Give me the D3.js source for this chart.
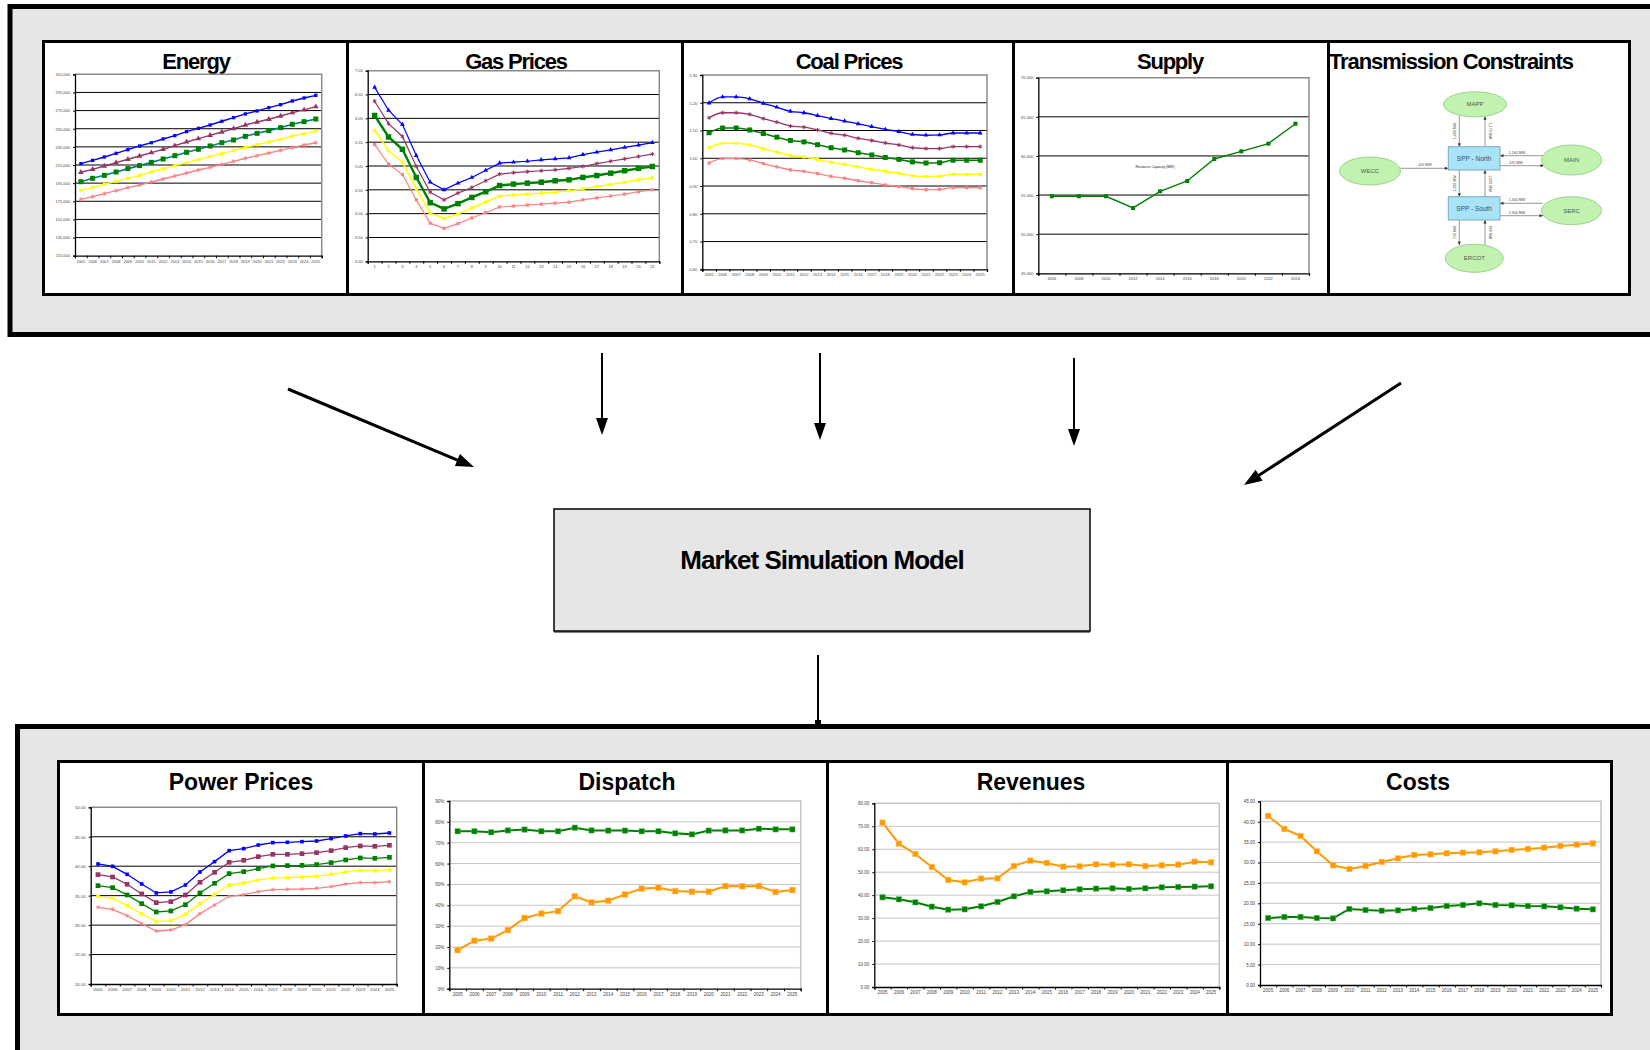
<!DOCTYPE html>
<html>
<head>
<meta charset="utf-8">
<script src="https://cdn.jsdelivr.net/npm/d3@7"></script>
<style>
  html, body { margin: 0; padding: 0; background: #ffffff; }
  svg { display: block; font-family: "Liberation Sans", Arial, sans-serif; }
</style>
</head>
<body>
<svg id="chart" width="1650" height="1050"></svg>
<script>
// ---------- categories ----------
const years = ["2005","2006","2007","2008","2009","2010","2011","2012","2013","2014","2015",
               "2016","2017","2018","2019","2020","2021","2022","2023","2024","2025"];
const gasPeriods = ["1","2","3","4","5","6","7","8","9","10","11","12","13","14","15","16","17","18","19","20","21"];
const supplyYears = ["2006","2008","2010","2012","2014","2016","2018","2020","2022","2024"];

// ---------- axis ticks ----------
const energyTicks = [115000,135000,155000,175000,195000,215000,235000,255000,275000,295000,315000];
const gasTicks = [3.0,3.5,4.0,4.5,5.0,5.5,6.0,6.5,7.0];
const coalTicks = [0.6,0.7,0.8,0.9,1.0,1.1,1.2,1.3];
const supplyTicks = [45000,50000,55000,60000,65000,70000];
const powerTicks = [20,25,30,35,40,45,50];
const dispatchTicks = [0,10,20,30,40,50,60,70,80,90];
const revenueTicks = [0,10,20,30,40,50,60,70,80];
const costTicks = [0,5,10,15,20,25,30,35,40,45];

// ---------- Energy (MWh) ----------
const energyHigh    = [216500,220100,223800,227900,231900,236000,239600,243700,247400,251800,255400,259100,263200,267200,271300,274600,278200,281500,285600,288900,291800];
const energyMidHigh = [207000,210200,213900,217600,221300,224900,228600,232300,236300,240400,244000,247700,251400,255100,259100,262400,265400,269000,272700,275700,279300];
const energyBase    = [196600,200300,203600,207300,211000,214300,217900,221600,225300,229000,232300,236000,239600,242600,246600,249900,252900,256200,259900,262800,265700];
const energyMidLow  = [187100,190400,193700,197000,200300,203600,207300,210600,214300,217600,220900,224200,227500,230800,234500,237400,240400,243300,247000,249600,252500];
const energyLow     = [177100,180100,183400,186700,190000,192900,196200,199600,202900,206200,209500,212400,215700,219000,222400,225300,228200,231200,234100,237100,239600];

// ---------- Gas prices ----------
const gasHigh    = [6.65,6.17,5.87,5.22,4.66,4.50,4.64,4.76,4.91,5.06,5.08,5.10,5.13,5.15,5.17,5.24,5.29,5.34,5.39,5.44,5.49];
const gasMidHigh = [6.36,5.89,5.62,4.99,4.45,4.29,4.43,4.55,4.69,4.83,4.86,4.88,4.90,4.92,4.95,4.99,5.05,5.10,5.15,5.20,5.25];
const gasBase    = [6.06,5.61,5.35,4.76,4.23,4.10,4.21,4.34,4.46,4.59,4.62,4.64,4.66,4.69,4.71,4.76,4.80,4.85,4.90,4.95,4.99];
const gasMidLow  = [5.75,5.32,5.08,4.52,4.01,3.90,3.99,4.12,4.24,4.37,4.39,4.41,4.43,4.45,4.48,4.52,4.57,4.61,4.66,4.71,4.75];
const gasLow     = [5.45,5.04,4.82,4.29,3.80,3.69,3.79,3.91,4.02,4.14,4.16,4.18,4.20,4.22,4.24,4.29,4.33,4.37,4.41,4.46,4.50];

// ---------- Coal prices ----------
const coalHigh    = [1.199,1.221,1.221,1.214,1.198,1.184,1.169,1.164,1.154,1.143,1.134,1.124,1.114,1.104,1.096,1.086,1.083,1.084,1.091,1.091,1.091];
const coalMidHigh = [1.146,1.164,1.164,1.158,1.143,1.130,1.116,1.112,1.102,1.090,1.083,1.072,1.064,1.055,1.048,1.038,1.035,1.035,1.042,1.042,1.042];
const coalBase    = [1.092,1.109,1.109,1.102,1.089,1.076,1.064,1.059,1.049,1.038,1.030,1.020,1.012,1.003,0.996,0.987,0.983,0.984,0.993,0.993,0.993];
const coalMidLow  = [1.037,1.054,1.054,1.048,1.034,1.022,1.010,1.005,0.996,0.986,0.978,0.969,0.960,0.953,0.946,0.937,0.934,0.935,0.942,0.942,0.942];
const coalLow     = [0.983,0.999,0.999,0.994,0.981,0.969,0.958,0.953,0.945,0.935,0.928,0.919,0.912,0.904,0.898,0.891,0.887,0.888,0.894,0.894,0.894];

// ---------- Supply: resource capacity (MW) ----------
const supplyCapacity = [54850,54850,54850,53350,55480,56800,59610,60590,61570,64120];

// ---------- Power prices ----------
const powerHigh    = [40.38,39.98,38.62,36.98,35.46,35.63,36.81,39.02,40.78,42.64,42.98,43.60,44.00,44.06,44.17,44.28,44.68,45.13,45.53,45.47,45.64];
const powerMidHigh = [38.57,38.17,36.93,35.29,33.81,33.98,35.12,37.27,38.96,40.66,41.00,41.62,42.02,42.02,42.13,42.30,42.64,43.15,43.44,43.38,43.55];
const powerBase    = [36.70,36.36,35.12,33.64,32.23,32.40,33.47,35.46,37.10,38.74,39.08,39.59,40.04,40.10,40.15,40.27,40.61,41.06,41.40,41.34,41.51];
const powerMidLow  = [34.83,34.55,33.31,31.89,30.59,30.76,31.83,33.64,35.23,36.81,37.15,37.66,38.00,38.06,38.17,38.29,38.62,39.02,39.30,39.25,39.42];
const powerLow     = [33.02,32.68,31.61,30.25,29.00,29.17,30.08,31.95,33.42,34.89,35.17,35.68,36.02,36.08,36.13,36.25,36.53,36.98,37.21,37.21,37.38];

// ---------- Dispatch (capacity factor, %) ----------
const dispatchGreen  = [75.5,75.5,75.0,75.9,76.3,75.5,75.5,77.2,75.9,75.8,75.8,75.5,75.5,74.5,74.0,75.8,75.9,75.9,76.7,76.4,76.4];
const dispatchOrange = [18.5,23.0,24.0,28.1,33.9,36.0,37.2,44.3,41.4,42.2,45.2,48.0,48.4,46.8,46.5,46.5,49.2,49.1,49.2,46.4,47.3];

// ---------- Revenues ----------
const revenueOrange = [71.58,62.43,57.93,52.27,46.61,45.59,47.19,47.33,52.70,55.03,54.01,52.41,52.56,53.43,53.28,53.43,52.70,52.99,53.28,54.59,54.30];
const revenueGreen  = [39.06,38.19,36.88,34.99,33.68,33.83,35.14,37.02,39.49,41.38,41.67,42.11,42.54,42.83,42.98,42.69,42.98,43.41,43.56,43.70,43.85];

// ---------- Costs ----------
const costOrange = [41.41,38.22,36.51,32.75,29.32,28.42,29.16,30.14,31.03,31.85,32.01,32.26,32.42,32.50,32.75,33.08,33.32,33.65,34.06,34.38,34.71];
const costGreen  = [16.41,16.66,16.66,16.41,16.33,18.62,18.37,18.21,18.29,18.62,18.86,19.35,19.60,20.01,19.60,19.52,19.35,19.27,19.03,18.70,18.54];

// ---------- Transmission regions and flows ----------
const regionNames = ["MAPP","WECC","MAIN","SERC","ERCOT"];
const zoneNames = ["SPP - North","SPP - South"];
const flowLabels = ["1,400 MW","1,170 MW","420 MW","1,160 MW","470 MW","1,200 MW","1,000 MW","1,300 MW","1,300 MW","750 MW","800 MW"];

// ======================================================================
const svg = d3.select("#chart");
const FONT = "'Liberation Sans', Arial, sans-serif";

// Outer grey frames
svg.append("rect").attr("x", 10).attr("y", 6.5).attr("width", 1700).attr("height", 328)
  .attr("fill", "#e6e6e6").attr("stroke", "#000").attr("stroke-width", 5);
svg.append("rect").attr("x", 17.5).attr("y", 726.5).attr("width", 1700).attr("height", 400)
  .attr("fill", "#e6e6e6").attr("stroke", "#000").attr("stroke-width", 5);

// White panels
const topEdges = [42, 346, 681, 1012, 1327, 1628];
const bottomEdges = [57, 422, 826, 1226, 1610];
function panels(edges, y0, y1) {
  for (let i = 0; i < edges.length - 1; i++) {
    svg.append("rect").attr("x", edges[i] + 1.5).attr("y", y0 + 1.5)
      .attr("width", edges[i + 1] - edges[i]).attr("height", y1 - y0 - 3)
      .attr("fill", "#fff").attr("stroke", "#000").attr("stroke-width", 3);
  }
}
panels(topEdges, 40, 296);
panels(bottomEdges, 760, 1016);

// Panel titles
function title(text, x, y, size, spacing, anchor) {
  svg.append("text").attr("x", x).attr("y", y).text(text)
    .attr("font-family", FONT).attr("font-weight", "bold").attr("font-size", size)
    .attr("letter-spacing", spacing).attr("text-anchor", anchor || "middle").attr("fill", "#000");
}
title("Energy", 196, 69, 22, -1.2);
title("Gas Prices", 516, 68.5, 22, -1.2);
title("Coal Prices", 849, 69, 22, -1.2);
title("Supply", 1170, 68.5, 22, -1.2);
title("Transmission Constraints", 1329, 68.5, 22, -1.1, "start");
title("Power Prices", 241, 790, 23, 0);
title("Dispatch", 627, 790, 23, 0);
title("Revenues", 1031, 790, 23, 0);
title("Costs", 1418, 790, 23, 0);

// Generic Excel-style line chart
function lineChart(cfg) {
  const g = svg.append("g");
  const { left, right, top, bottom } = cfg.box;
  const x = d3.scaleBand().domain(cfg.categories).range([left, right]);
  const y = d3.scaleLinear().domain(cfg.domain).range([bottom, top]);
  const n = cfg.categories.length;

  // horizontal gridlines
  g.selectAll("line.grid")
    .data(cfg.ticks.filter(t => t > cfg.domain[0] + 1e-9 && t < cfg.domain[1] - 1e-9))
    .join("line").attr("class", "grid")
    .attr("x1", left).attr("x2", right)
    .attr("y1", d => y(d)).attr("y2", d => y(d))
    .attr("stroke", cfg.grid).attr("stroke-width", cfg.gridWidth || 1);

  // plot frame (top and right)
  g.append("path").attr("d", `M${left},${y(cfg.domain[1])}H${right}V${bottom}`)
    .attr("fill", "none").attr("stroke", cfg.frame).attr("stroke-width", 1.5);

  // value axis
  const ya = g.append("g").attr("transform", `translate(${left},0)`)
    .call(d3.axisLeft(y).tickValues(cfg.ticks).tickFormat(cfg.format).tickSize(2).tickPadding(3));
  // category axis: labels centred on categories
  const xa = g.append("g").attr("transform", `translate(0,${bottom})`)
    .call(d3.axisBottom(x).tickSize(0).tickPadding(cfg.labelPad || 4));
  xa.select(".domain").remove();
  // category axis: tick marks between categories
  const edge = d3.scaleLinear().domain([0, n]).range([left, right]);
  const xt = g.append("g").attr("transform", `translate(0,${bottom})`)
    .call(d3.axisBottom(edge).tickValues(d3.range(n + 1)).tickFormat("").tickSize(2.5));
  [ya, xa, xt].forEach(a => {
    a.attr("font-family", FONT).attr("font-size", cfg.fontSize);
    a.selectAll("text").attr("fill", "#444");
    a.selectAll("path.domain").attr("stroke", "#000").attr("stroke-width", 1.3);
    a.selectAll(".tick line").attr("stroke", "#000");
  });

  const cx = c => x(c) + x.bandwidth() / 2;
  cfg.series.forEach(s => {
    const pts = s.values.map((v, i) => [cx(cfg.categories[i]), y(v)]);
    g.append("path").datum(pts)
      .attr("d", d3.line().curve(cfg.curve || d3.curveLinear))
      .attr("fill", "none").attr("stroke", s.line || s.color).attr("stroke-width", s.width);
    const stroke = s.shape === d3.symbolAsterisk || s.shape === d3.symbolTimes;
    g.selectAll(null).data(pts).join("path")
      .attr("transform", d => `translate(${d[0]},${d[1]})`)
      .attr("d", d3.symbol().type(s.shape).size(s.size))
      .attr("fill", stroke ? "none" : s.color)
      .attr("stroke", stroke ? s.color : (s.halo || "none"))
      .attr("stroke-width", stroke ? 1 : 1)
      .attr("stroke-opacity", stroke ? 1 : 0.45);
  });
  return { x, y, g };
}

const SQ = d3.symbolSquare, TRI = d3.symbolTriangle, AST = d3.symbolAsterisk;
const BLUE = "#0000ff", PURPLE = "#993366", GREEN = "#008000", YELLOW = "#ffff00", PINK = "#ff8080", ORANGE = "#ff9900";

// Energy
lineChart({
  box: { left: 75, right: 321.7, top: 74.3, bottom: 255.7 },
  categories: years, domain: [115000, 315000], ticks: energyTicks, format: d3.format(","),
  grid: "#000", frame: "#8a8a8a", fontSize: 4,
  series: [
    { values: energyHigh, color: BLUE, width: 1.4, shape: SQ, size: 11 },
    { values: energyMidHigh, color: PURPLE, width: 1.4, shape: TRI, size: 14 },
    { values: energyBase, color: GREEN, line: "#008080", width: 1.6, shape: SQ, size: 25 },
    { values: energyMidLow, color: YELLOW, width: 1.4, shape: SQ, size: 11 },
    { values: energyLow, color: PINK, width: 1.4, shape: AST, size: 12 }
  ]
});

// Gas prices
lineChart({
  box: { left: 367.7, right: 659.3, top: 70.7, bottom: 261.3 },
  categories: gasPeriods, domain: [3, 7], ticks: gasTicks, format: d3.format(".2f"),
  grid: "#000", frame: "#8a8a8a", fontSize: 4,
  series: [
    { values: gasHigh, color: BLUE, width: 1.2, shape: TRI, size: 10 },
    { values: gasMidHigh, color: PURPLE, width: 1.2, shape: AST, size: 12 },
    { values: gasBase, color: GREEN, width: 2.4, shape: SQ, size: 30 },
    { values: gasMidLow, color: YELLOW, width: 1.5, shape: SQ, size: 11 },
    { values: gasLow, color: PINK, width: 1.2, shape: SQ, size: 10 }
  ]
});

// Coal prices
lineChart({
  box: { left: 702.3, right: 987, top: 75, bottom: 269.3 },
  categories: years, domain: [0.6, 1.3], ticks: coalTicks, format: d3.format(".2f"),
  grid: "#000", frame: "#8a8a8a", fontSize: 4, curve: d3.curveMonotoneX,
  series: [
    { values: coalHigh, color: BLUE, width: 1.3, shape: TRI, size: 10 },
    { values: coalMidHigh, color: PURPLE, width: 1.3, shape: AST, size: 12 },
    { values: coalBase, color: GREEN, width: 1.6, shape: SQ, size: 25 },
    { values: coalMidLow, color: YELLOW, width: 1.5, shape: SQ, size: 11 },
    { values: coalLow, color: PINK, width: 1.3, shape: SQ, size: 10 }
  ]
});

// Supply
const supply = lineChart({
  box: { left: 1038.3, right: 1309, top: 77.7, bottom: 273.3 },
  categories: supplyYears, domain: [45000, 70000], ticks: supplyTicks, format: d3.format(","),
  grid: "#000", frame: "#8a8a8a", fontSize: 4,
  series: [
    { values: supplyCapacity, color: GREEN, width: 1.4, shape: SQ, size: 16 }
  ]
});
supply.g.append("text").attr("x", 1155).attr("y", 167.5).attr("text-anchor", "middle")
  .attr("font-family", FONT).attr("font-size", 3.5).attr("fill", "#222").text("Resource Capacity (MW)");

// Power prices
lineChart({
  box: { left: 90.7, right: 396.7, top: 807.3, bottom: 984 },
  categories: years, domain: [20, 50], ticks: powerTicks, format: d3.format(".2f"),
  grid: "#000", frame: "#8a8a8a", fontSize: 4.3,
  series: [
    { values: powerHigh, color: BLUE, width: 1.3, shape: SQ, size: 13 },
    { values: powerMidHigh, color: PURPLE, width: 1.3, shape: SQ, size: 22 },
    { values: powerBase, color: GREEN, width: 1.3, shape: SQ, size: 22 },
    { values: powerMidLow, color: YELLOW, width: 1.3, shape: SQ, size: 13 },
    { values: powerLow, color: PINK, width: 1.3, shape: AST, size: 10 }
  ]
});

// Dispatch
lineChart({
  box: { left: 449.3, right: 800.7, top: 801, bottom: 988.7 },
  categories: years, domain: [0, 90], ticks: dispatchTicks, format: d => d + "%",
  grid: "#c4c4c4", frame: "#c4c4c4", fontSize: 4.5,
  series: [
    { values: dispatchGreen, color: GREEN, width: 2, shape: SQ, size: 30, halo: "#80c080" },
    { values: dispatchOrange, color: ORANGE, width: 2, shape: SQ, size: 34, halo: "#ffcc80" }
  ]
});

// Revenues
lineChart({
  box: { left: 874.3, right: 1219.3, top: 803.3, bottom: 987 },
  categories: years, domain: [0, 80], ticks: revenueTicks, format: d3.format(".2f"),
  grid: "#c4c4c4", frame: "#c4c4c4", fontSize: 4.5,
  series: [
    { values: revenueOrange, color: ORANGE, width: 2, shape: SQ, size: 32, halo: "#ffcc80" },
    { values: revenueGreen, color: GREEN, width: 2, shape: SQ, size: 30, halo: "#80c080" }
  ]
});

// Costs
lineChart({
  box: { left: 1260, right: 1601, top: 801.3, bottom: 985 },
  categories: years, domain: [0, 45], ticks: costTicks, format: d3.format(".2f"),
  grid: "#c4c4c4", frame: "#c4c4c4", fontSize: 4.5,
  series: [
    { values: costOrange, color: ORANGE, width: 2, shape: SQ, size: 32, halo: "#ffcc80" },
    { values: costGreen, color: GREEN, width: 2, shape: SQ, size: 30, halo: "#80c080" }
  ]
});

// ---------- Transmission constraints diagram ----------
const tx = svg.append("g");
const regionPos = {
  MAPP:  { cx: 1475, cy: 104.3, rx: 31.5, ry: 12.5 },
  WECC:  { cx: 1370, cy: 171, rx: 30.5, ry: 14 },
  MAIN:  { cx: 1571.5, cy: 160, rx: 30, ry: 15 },
  SERC:  { cx: 1571.5, cy: 210.7, rx: 30, ry: 14 },
  ERCOT: { cx: 1474.3, cy: 258.3, rx: 29, ry: 14 }
};
const zonePos = {
  "SPP - North": { x: 1448.3, y: 146.7, w: 51.7, h: 23.3 },
  "SPP - South": { x: 1448.3, y: 196.7, w: 51.7, h: 23.3 }
};
// flow lines: [x1, y1, x2, y2, label x, label y, rotation]
const flowGeom = [
  [1459.3, 115.4, 1459.3, 146.7, 1456, 131, -90],
  [1485, 146.7, 1485, 116.2, 1489, 131, 90],
  [1400.5, 168.3, 1448.3, 168.3, 1425, 166, 0],
  [1542.8, 155.7, 1500, 155.7, 1517, 153.5, 0],
  [1500, 165.7, 1544, 165.7, 1516, 163.5, 0],
  [1459.3, 170, 1459.3, 196.7, 1456, 183.5, -90],
  [1485, 196.7, 1485, 170, 1489, 183.5, 90],
  [1542.5, 203.3, 1500, 203.3, 1517, 201, 0],
  [1500, 215.7, 1543, 215.7, 1517, 213.5, 0],
  [1459.3, 220, 1459.3, 245, 1456, 232.5, -90],
  [1485, 245.3, 1485, 220, 1489, 232.5, 90]
];
flowLabels.forEach((lab, i) => {
  const [x1, y1, x2, y2, lx, ly, rot] = flowGeom[i];
  tx.append("line").attr("x1", x1).attr("y1", y1).attr("x2", x2).attr("y2", y2)
    .attr("stroke", "#8c8c8c").attr("stroke-width", 0.9);
  const a = Math.atan2(y2 - y1, x2 - x1), L = 3.5, W = 1.6;
  const bx = x2 - L * Math.cos(a), by = y2 - L * Math.sin(a);
  tx.append("path")
    .attr("d", `M${x2},${y2}L${bx - W * Math.sin(a)},${by + W * Math.cos(a)}L${bx + W * Math.sin(a)},${by - W * Math.cos(a)}Z`)
    .attr("fill", "#333");
  tx.append("text").attr("transform", `translate(${lx},${ly}) rotate(${rot})`)
    .attr("text-anchor", "middle").attr("font-family", FONT).attr("font-size", 3.6)
    .attr("fill", "#444").text(lab);
});
regionNames.forEach(name => {
  const p = regionPos[name];
  tx.append("ellipse").attr("cx", p.cx).attr("cy", p.cy).attr("rx", p.rx).attr("ry", p.ry)
    .attr("fill", "#c2f2b0").attr("stroke", "#9cd28c").attr("stroke-width", 1);
  tx.append("text").attr("x", p.cx).attr("y", p.cy + 2).attr("text-anchor", "middle")
    .attr("font-family", FONT).attr("font-size", 6).attr("fill", "#4a5a4a").text(name);
});
zoneNames.forEach(name => {
  const p = zonePos[name];
  tx.append("rect").attr("x", p.x).attr("y", p.y).attr("width", p.w).attr("height", p.h)
    .attr("fill", "#a9e3f7").attr("stroke", "#7fa9bf").attr("stroke-width", 1);
  tx.append("text").attr("x", p.x + p.w / 2).attr("y", p.y + p.h / 2 + 2.3).attr("text-anchor", "middle")
    .attr("font-family", FONT).attr("font-size", 6.5).attr("fill", "#3a4f66").text(name);
});

// ---------- flow arrows into and out of the model ----------
function arrow(x1, y1, x2, y2, w, L, W) {
  const a = Math.atan2(y2 - y1, x2 - x1);
  const bx = x2 - L * Math.cos(a), by = y2 - L * Math.sin(a);
  svg.append("line").attr("x1", x1).attr("y1", y1).attr("x2", bx + 2 * Math.cos(a)).attr("y2", by + 2 * Math.sin(a))
    .attr("stroke", "#000").attr("stroke-width", w);
  svg.append("path")
    .attr("d", `M${x2},${y2}L${bx - W * Math.sin(a)},${by + W * Math.cos(a)}L${bx + W * Math.sin(a)},${by - W * Math.cos(a)}Z`)
    .attr("fill", "#000");
}
arrow(288, 389, 474, 467, 3, 18, 6.5);
arrow(602, 353, 602, 435, 2, 17, 6);
arrow(820, 353, 820, 440, 2, 17, 6);
arrow(1074, 358, 1074, 446, 2, 17, 6);
arrow(1401, 383, 1244, 485, 3, 18, 6.5);
svg.append("line").attr("x1", 818).attr("y1", 655).attr("x2", 818).attr("y2", 724)
  .attr("stroke", "#000").attr("stroke-width", 2);
svg.append("rect").attr("x", 815).attr("y", 720).attr("width", 6).attr("height", 5).attr("fill", "#000");

// Model box
svg.append("rect").attr("x", 554).attr("y", 509).attr("width", 536).attr("height", 122)
  .attr("fill", "#e6e6e6").attr("stroke", "#000").attr("stroke-width", 1.5);
svg.append("line").attr("x1", 554).attr("x2", 1090).attr("y1", 632).attr("y2", 632)
  .attr("stroke", "#000").attr("stroke-width", 1.2);
svg.append("text").attr("x", 822).attr("y", 569).attr("text-anchor", "middle")
  .attr("font-family", FONT).attr("font-weight", "bold").attr("font-size", 26)
  .attr("letter-spacing", -1).attr("fill", "#000").text("Market Simulation Model");
</script>
</body>
</html>
